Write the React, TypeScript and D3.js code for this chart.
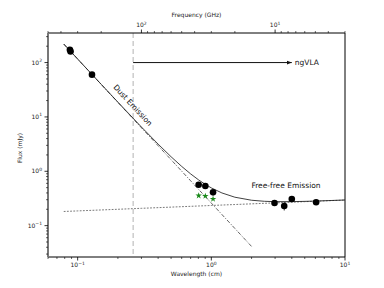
import React from 'react';
import * as d3 from 'd3';

// measured points (wavelength cm, flux mJy)
const dustLam = [0.0875, 0.0885, 0.128];
const dustFlux = [172, 160, 60];
const mmLam = [0.804, 0.902, 1.03];
const mmFlux = [0.567, 0.536, 0.41];
const cmLam = [2.97, 3.51, 4.0, 6.08];
const cmFlux = [0.261, 0.23, 0.309, 0.269];
const cmErr = [0.02, 0.04, 0.02, 0.02];
const starLam = [0.804, 0.902, 1.03];
const starFlux = [0.356, 0.35, 0.309];

// model parameters
const dustAmp = 0.26;
const dustIndex = -2.65;
const ffAmp = 0.235;
const ffIndex = 0.1;
const modelStart = 0.0787;
const dustEnd = 2.0;
const modelGrid = [0.0787, 0.1, 0.15, 0.2, 0.3, 0.4, 0.5, 0.6, 0.7, 0.8, 0.9, 1, 1.2, 1.5, 2, 2.5, 3, 4, 5, 6, 8, 10];

const ngvlaFrom = 0.26;
const ngvlaTo = 4.0;
const ngvlaLevel = 100;

const xMajor = [0.1, 1, 10];
const xMinor = [0.06, 0.07, 0.08, 0.09, 0.2, 0.3, 0.4, 0.5, 0.6, 0.7, 0.8, 0.9, 2, 3, 4, 5, 6, 7, 8, 9];
const yMajor = [0.1, 1, 10, 100];
const yMinor = [0.03, 0.04, 0.05, 0.06, 0.07, 0.08, 0.09, 0.2, 0.3, 0.4, 0.5, 0.6, 0.7, 0.8, 0.9,
  2, 3, 4, 5, 6, 7, 8, 9, 20, 30, 40, 50, 60, 70, 80, 90, 200, 300];
const fMajor = [100, 10];
const fMinor = [500, 400, 300, 200, 90, 80, 70, 60, 50, 40, 30, 20, 9, 8, 7, 6, 5, 4, 3];

const L = 48, R = 345, T = 33, B = 257;
const font = 'DejaVu Sans, sans-serif';

const dust = (l: number) => dustAmp * Math.pow(l, dustIndex);
const ff = (l: number) => ffAmp * Math.pow(l, ffIndex);

const Pow = ({ x, y, e, anchor = 'middle' }: any) => (
  <text x={x} y={y} fontSize={6} fontFamily={font} textAnchor={anchor} fill="#222">
    10<tspan dy={-2.5} fontSize={4.5}>{e}</tspan>
  </text>
);

export default function App() {
  const x = d3.scaleLog().domain([0.06, 10]).range([L, R]);
  const y = d3.scaleLog().domain([0.0265, 350]).range([B, T]);
  const f = d3.scaleLog().domain([500, 3]).range([L, R]);

  const line = d3.line<[number, number]>().x(d => x(d[0])).y(d => y(d[1]));
  const grid = modelGrid.filter(l => l >= modelStart);
  const total = line(grid.map(l => [l, dust(l) + ff(l)] as [number, number]));
  const dustLine = line(grid.filter(l => l <= dustEnd).map(l => [l, dust(l)] as [number, number]));
  const ffLine = line(grid.map(l => [l, ff(l)] as [number, number]));

  const star = d3.symbol().type(d3.symbolStar).size(13)();
  const dots = [
    ...dustLam.map((l, i) => ({ l, v: dustFlux[i], e: 0 })),
    ...mmLam.map((l, i) => ({ l, v: mmFlux[i], e: 0 })),
    ...cmLam.map((l, i) => ({ l, v: cmFlux[i], e: cmErr[i] })),
  ];

  const dustAngle = (Math.atan2(y(dust(1)) - y(dust(0.1)), x(1) - x(0.1)) * 180) / Math.PI;

  return (
    <svg width={384} height={288} style={{ position: 'absolute', left: 0, top: 0 }}>
      <rect width={384} height={288} fill="#fff" />
      <defs>
        <marker id="arr" markerWidth={6} markerHeight={6} refX={5} refY={3} orient="auto" markerUnits="userSpaceOnUse">
          <path d="M0,1 L5,3 L0,5 Z" fill="#111" />
        </marker>
      </defs>

      {/* vertical marker */}
      <line x1={x(ngvlaFrom)} x2={x(ngvlaFrom)} y1={T} y2={B} stroke="#a0a0a0" strokeWidth={0.8} strokeDasharray="5,3" />

      {/* model lines */}
      <path d={ffLine || ''} fill="none" stroke="#555" strokeWidth={0.8} strokeDasharray="1.8,1.4" />
      <path d={dustLine || ''} fill="none" stroke="#222" strokeWidth={0.7} strokeDasharray="4,1.5,1,1.5" />
      <path d={total || ''} fill="none" stroke="#111" strokeWidth={0.8} />

      {/* data */}
      {dots.map((d, i) => (
        <g key={i}>
          {d.e > 0 && <line x1={x(d.l)} x2={x(d.l)} y1={y(d.v - d.e)} y2={y(d.v + d.e)} stroke="#000" strokeWidth={0.8} />}
          <circle cx={x(d.l)} cy={y(d.v)} r={3.3} fill="#000" />
        </g>
      ))}
      {starLam.map((l, i) => (
        <path key={i} d={star || ''} transform={`translate(${x(l)},${y(starFlux[i])})`} fill="#1a8a1a" />
      ))}

      {/* arrow */}
      <line x1={x(ngvlaFrom)} x2={x(ngvlaTo)} y1={y(ngvlaLevel)} y2={y(ngvlaLevel)} stroke="#111" strokeWidth={1} markerEnd="url(#arr)" />
      <text x={x(ngvlaTo) + 3} y={y(ngvlaLevel) + 2.5} fontSize={7.5} fontFamily={font} fill="#111">ngVLA</text>

      <text transform={`translate(131,107) rotate(${dustAngle})`} textAnchor="middle" fontSize={7.5} fontFamily={font} fill="#111">Dust Emission</text>
      <text x={286} y={188} textAnchor="middle" fontSize={7.5} fontFamily={font} fill="#111">Free-free Emission</text>

      {/* frame */}
      <line x1={L} x2={R} y1={T} y2={T} stroke="#000" strokeWidth={1} />
      <line x1={L} x2={R} y1={B} y2={B} stroke="#000" strokeWidth={1} />
      <line x1={R} x2={R} y1={T} y2={B} stroke="#000" strokeWidth={1} />
      <line x1={L} x2={L} y1={T} y2={B} stroke="#777" strokeWidth={2} />

      {/* bottom axis */}
      {xMajor.map(t => <line key={t} x1={x(t)} x2={x(t)} y1={B} y2={B + 3.5} stroke="#000" strokeWidth={0.8} />)}
      {xMinor.map(t => <line key={t} x1={x(t)} x2={x(t)} y1={B} y2={B + 2} stroke="#000" strokeWidth={0.6} />)}
      {xMajor.map((t, i) => <Pow key={t} x={x(t)} y={B + 10} e={['\u22121', '0', '1'][i]} />)}
      <text x={(L + R) / 2} y={276} textAnchor="middle" fontSize={6} fontFamily={font} fill="#222">Wavelength (cm)</text>

      {/* top axis */}
      {fMajor.map(t => <line key={t} x1={f(t)} x2={f(t)} y1={T} y2={T - 3.5} stroke="#000" strokeWidth={0.8} />)}
      {fMinor.map(t => <line key={t} x1={f(t)} x2={f(t)} y1={T} y2={T - 2} stroke="#000" strokeWidth={0.6} />)}
      {fMajor.map((t, i) => <Pow key={t} x={f(t)} y={T - 6} e={['2', '1'][i]} />)}
      <text x={(L + R) / 2} y={17} textAnchor="middle" fontSize={6} fontFamily={font} fill="#222">Frequency (GHz)</text>

      {/* left axis */}
      {yMajor.map(t => <line key={t} x1={L} x2={L - 3.5} y1={y(t)} y2={y(t)} stroke="#000" strokeWidth={0.8} />)}
      {yMinor.map(t => <line key={t} x1={L} x2={L - 2} y1={y(t)} y2={y(t)} stroke="#000" strokeWidth={0.6} />)}
      {yMajor.map((t, i) => <Pow key={t} x={L - 6} y={y(t) + 2} e={['\u22121', '0', '1', '2'][i]} anchor="end" />)}
      <text transform={`translate(22,${(T + B) / 2 + 3}) rotate(-90)`} textAnchor="middle" fontSize={6} fontFamily={font} fill="#222">Flux (mJy)</text>
    </svg>
  );
}
